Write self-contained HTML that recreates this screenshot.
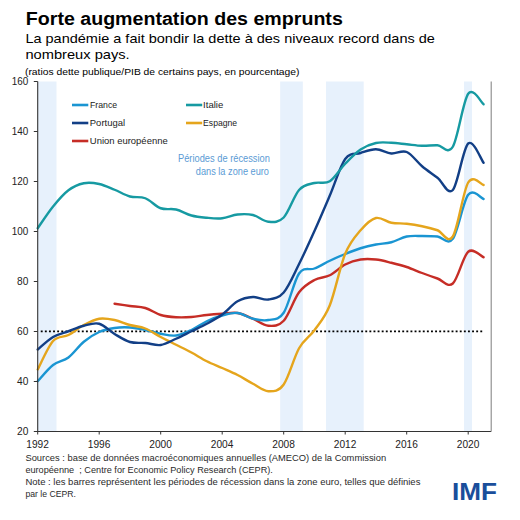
<!DOCTYPE html>
<html><head><meta charset="utf-8"><style>
html,body{margin:0;padding:0;background:#fff;}
body{width:520px;height:520px;overflow:hidden;position:relative;font-family:"Liberation Sans",sans-serif;color:#000;}
svg{position:absolute;left:0;top:0;}
.ax{font-size:10.4px;fill:#222;}
.lg{font-size:9.8px;fill:#222;}
.ann{font-size:10px;fill:#5B9BD5;}
.title{font-size:17.6px;font-weight:bold;fill:#000;}
.sub{font-size:13.3px;fill:#000;}
.unit{font-size:9.8px;fill:#000;}
.note{font-size:8.8px;fill:#2a2a2a;}
.imf{font-size:23px;font-weight:bold;fill:#1A4E9B;}
.t{position:absolute;white-space:nowrap;left:0;top:0;}
</style></head><body>
<svg width="520" height="520" viewBox="0 0 520 520">
<rect x="38.0" y="81.5" width="18.5" height="350" fill="#E7F1FC"/><rect x="280.2" y="81.5" width="22.6" height="350" fill="#E7F1FC"/><rect x="326.0" y="81.5" width="37.7" height="350" fill="#E7F1FC"/><rect x="464.0" y="81.5" width="8.0" height="350" fill="#E7F1FC"/>
<line x1="40.75" y1="331.4" x2="484" y2="331.4" stroke="#000" stroke-width="1.8" stroke-dasharray="1.9,2.208"/>
<path d="M114.58,303.75 C117.14,304.12 124.82,305.29 129.95,306.00 C135.07,306.71 140.20,306.50 145.32,308.00 C150.45,309.50 155.57,313.46 160.70,315.00 C165.82,316.54 170.95,316.92 176.07,317.25 C181.20,317.58 186.32,317.38 191.45,317.00 C196.57,316.62 201.70,315.54 206.82,315.00 C211.95,314.46 217.07,314.08 222.20,313.75 C227.32,313.42 232.45,312.17 237.57,313.00 C242.70,313.83 247.82,316.62 252.95,318.75 C258.07,320.88 263.20,325.42 268.32,325.75 C273.45,326.08 278.57,326.33 283.70,320.75 C288.82,315.17 293.95,299.04 299.07,292.25 C304.20,285.46 309.32,282.83 314.45,280.00 C319.57,277.17 324.70,277.83 329.82,275.25 C334.95,272.67 340.07,267.12 345.20,264.50 C350.32,261.88 355.45,260.33 360.57,259.50 C365.70,258.67 370.82,258.96 375.95,259.50 C381.07,260.04 386.20,261.50 391.32,262.75 C396.45,264.00 401.57,265.29 406.70,267.00 C411.82,268.71 416.95,271.08 422.07,273.00 C427.20,274.92 432.32,276.75 437.45,278.50 C442.57,280.25 447.70,287.96 452.82,283.50 C457.95,279.04 463.07,256.12 468.20,251.75 C473.32,247.38 481.01,256.33 483.57,257.25" fill="none" stroke="#C62D26" stroke-width="2.4" stroke-linejoin="round" stroke-linecap="round"/><path d="M37.70,381.25 C40.26,378.54 47.95,368.96 53.08,365.00 C58.20,361.04 63.33,361.38 68.45,357.50 C73.58,353.62 78.70,346.00 83.83,341.75 C88.95,337.50 94.08,334.29 99.20,332.00 C104.33,329.71 109.45,328.75 114.58,328.00 C119.70,327.25 124.82,327.17 129.95,327.50 C135.07,327.83 140.20,328.96 145.32,330.00 C150.45,331.04 155.57,332.83 160.70,333.75 C165.82,334.67 170.95,336.12 176.07,335.50 C181.20,334.88 186.32,332.38 191.45,330.00 C196.57,327.62 201.70,323.67 206.82,321.25 C211.95,318.83 217.07,316.88 222.20,315.50 C227.32,314.12 232.45,312.46 237.57,313.00 C242.70,313.54 247.82,317.58 252.95,318.75 C258.07,319.92 263.20,321.00 268.32,320.00 C273.45,319.00 278.57,320.50 283.70,312.75 C288.82,305.00 293.95,280.88 299.07,273.50 C304.20,266.12 309.32,270.62 314.45,268.50 C319.57,266.38 324.70,263.17 329.82,260.75 C334.95,258.33 340.07,256.08 345.20,254.00 C350.32,251.92 355.45,249.83 360.57,248.25 C365.70,246.67 370.82,245.50 375.95,244.50 C381.07,243.50 386.20,243.58 391.32,242.25 C396.45,240.92 401.57,237.54 406.70,236.50 C411.82,235.46 416.95,236.00 422.07,236.00 C427.20,236.00 432.32,236.04 437.45,236.50 C442.57,236.96 447.70,245.71 452.82,238.75 C457.95,231.79 463.07,201.38 468.20,194.75 C473.32,188.12 481.01,198.29 483.57,199.00" fill="none" stroke="#1A95D2" stroke-width="2.4" stroke-linejoin="round" stroke-linecap="round"/><path d="M37.70,369.50 C40.26,364.75 47.95,346.75 53.08,341.00 C58.20,335.25 63.33,337.67 68.45,335.00 C73.58,332.33 78.70,327.71 83.83,325.00 C88.95,322.29 94.08,319.58 99.20,318.75 C104.33,317.92 109.45,318.96 114.58,320.00 C119.70,321.04 124.82,323.58 129.95,325.00 C135.07,326.42 140.20,326.50 145.32,328.50 C150.45,330.50 155.57,334.29 160.70,337.00 C165.82,339.71 170.95,342.17 176.07,344.75 C181.20,347.33 186.32,349.75 191.45,352.50 C196.57,355.25 201.70,358.67 206.82,361.25 C211.95,363.83 217.07,365.71 222.20,368.00 C227.32,370.29 232.45,372.38 237.57,375.00 C242.70,377.62 247.82,381.04 252.95,383.75 C258.07,386.46 263.20,391.12 268.32,391.25 C273.45,391.38 278.57,391.67 283.70,384.50 C288.82,377.33 293.95,357.29 299.07,348.25 C304.20,339.21 309.32,337.42 314.45,330.25 C319.57,323.08 324.70,318.00 329.82,305.25 C334.95,292.50 340.07,266.25 345.20,253.75 C350.32,241.25 355.45,236.21 360.57,230.25 C365.70,224.29 370.82,219.25 375.95,218.00 C381.07,216.75 386.20,221.79 391.32,222.75 C396.45,223.71 401.57,223.17 406.70,223.75 C411.82,224.33 416.95,225.17 422.07,226.25 C427.20,227.33 432.32,228.54 437.45,230.25 C442.57,231.96 447.70,244.46 452.82,236.50 C457.95,228.54 463.07,191.08 468.20,182.50 C473.32,173.92 481.01,184.58 483.57,185.00" fill="none" stroke="#E5A51C" stroke-width="2.4" stroke-linejoin="round" stroke-linecap="round"/><path d="M37.70,349.50 C40.26,347.42 47.95,340.04 53.08,337.00 C58.20,333.96 63.33,333.12 68.45,331.25 C73.58,329.38 78.70,327.00 83.83,325.75 C88.95,324.50 94.08,322.38 99.20,323.75 C104.33,325.12 109.45,330.96 114.58,334.00 C119.70,337.04 124.82,340.50 129.95,342.00 C135.07,343.50 140.20,342.50 145.32,343.00 C150.45,343.50 155.57,345.71 160.70,345.00 C165.82,344.29 170.95,341.04 176.07,338.75 C181.20,336.46 186.32,333.75 191.45,331.25 C196.57,328.75 201.70,326.54 206.82,323.75 C211.95,320.96 217.07,318.25 222.20,314.50 C227.32,310.75 232.45,304.17 237.57,301.25 C242.70,298.33 247.82,297.29 252.95,297.00 C258.07,296.71 263.20,300.25 268.32,299.50 C273.45,298.75 278.57,298.42 283.70,292.50 C288.82,286.58 293.95,274.25 299.07,264.00 C304.20,253.75 309.32,242.42 314.45,231.00 C319.57,219.58 324.70,207.50 329.82,195.50 C334.95,183.50 340.07,166.08 345.20,159.00 C350.32,151.92 355.45,154.62 360.57,153.00 C365.70,151.38 370.82,149.17 375.95,149.25 C381.07,149.33 386.20,153.04 391.32,153.50 C396.45,153.96 401.57,149.87 406.70,152.00 C411.82,154.12 416.95,161.96 422.07,166.25 C427.20,170.54 432.32,173.79 437.45,177.75 C442.57,181.71 447.70,195.71 452.82,190.00 C457.95,184.29 463.07,148.04 468.20,143.50 C473.32,138.96 481.01,159.54 483.57,162.75" fill="none" stroke="#123F86" stroke-width="2.4" stroke-linejoin="round" stroke-linecap="round"/><path d="M37.70,228.25 C40.26,224.62 47.95,212.83 53.08,206.50 C58.20,200.17 63.33,194.12 68.45,190.25 C73.58,186.38 78.70,184.29 83.83,183.25 C88.95,182.21 94.08,182.92 99.20,184.00 C104.33,185.08 109.45,187.67 114.58,189.75 C119.70,191.83 124.82,195.08 129.95,196.50 C135.07,197.92 140.20,196.29 145.32,198.25 C150.45,200.21 155.57,206.38 160.70,208.25 C165.82,210.12 170.95,208.29 176.07,209.50 C181.20,210.71 186.32,214.12 191.45,215.50 C196.57,216.88 201.70,217.29 206.82,217.75 C211.95,218.21 217.07,218.79 222.20,218.25 C227.32,217.71 232.45,215.04 237.57,214.50 C242.70,213.96 247.82,213.79 252.95,215.00 C258.07,216.21 263.20,221.33 268.32,221.75 C273.45,222.17 278.57,222.79 283.70,217.50 C288.82,212.21 293.95,195.75 299.07,190.00 C304.20,184.25 309.32,184.46 314.45,183.00 C319.57,181.54 324.70,184.46 329.82,181.25 C334.95,178.04 340.07,169.04 345.20,163.75 C350.32,158.46 355.45,152.96 360.57,149.50 C365.70,146.04 370.82,144.12 375.95,143.00 C381.07,141.88 386.20,142.54 391.32,142.75 C396.45,142.96 401.57,143.75 406.70,144.25 C411.82,144.75 416.95,145.58 422.07,145.75 C427.20,145.92 432.32,145.08 437.45,145.25 C442.57,145.42 447.70,155.33 452.82,146.75 C457.95,138.17 463.07,100.83 468.20,93.75 C473.32,86.67 481.01,102.50 483.57,104.25" fill="none" stroke="#169AA2" stroke-width="2.4" stroke-linejoin="round" stroke-linecap="round"/>
<line x1="37.7" y1="81.5" x2="37.7" y2="431.5" stroke="#333" stroke-width="1.1"/>
<line x1="37.2" y1="431.5" x2="491.2" y2="431.5" stroke="#333" stroke-width="1.1"/>
<line x1="491.2" y1="81.5" x2="491.2" y2="431.5" stroke="#888" stroke-width="1.1"/>
<line x1="33.8" y1="431.50" x2="37.7" y2="431.50" stroke="#333" stroke-width="1"/><text x="17.00" y="435.00" textLength="11.3" lengthAdjust="spacingAndGlyphs" class="ax">20</text><line x1="33.8" y1="381.50" x2="37.7" y2="381.50" stroke="#333" stroke-width="1"/><text x="17.00" y="385.00" textLength="11.3" lengthAdjust="spacingAndGlyphs" class="ax">40</text><line x1="33.8" y1="331.50" x2="37.7" y2="331.50" stroke="#333" stroke-width="1"/><text x="17.00" y="335.00" textLength="11.3" lengthAdjust="spacingAndGlyphs" class="ax">60</text><line x1="33.8" y1="281.50" x2="37.7" y2="281.50" stroke="#333" stroke-width="1"/><text x="17.00" y="285.00" textLength="11.3" lengthAdjust="spacingAndGlyphs" class="ax">80</text><line x1="33.8" y1="231.50" x2="37.7" y2="231.50" stroke="#333" stroke-width="1"/><text x="11.80" y="235.00" textLength="16.5" lengthAdjust="spacingAndGlyphs" class="ax">100</text><line x1="33.8" y1="181.50" x2="37.7" y2="181.50" stroke="#333" stroke-width="1"/><text x="11.80" y="185.00" textLength="16.5" lengthAdjust="spacingAndGlyphs" class="ax">120</text><line x1="33.8" y1="131.50" x2="37.7" y2="131.50" stroke="#333" stroke-width="1"/><text x="11.80" y="135.00" textLength="16.5" lengthAdjust="spacingAndGlyphs" class="ax">140</text><line x1="33.8" y1="81.50" x2="37.7" y2="81.50" stroke="#333" stroke-width="1"/><text x="11.80" y="85.00" textLength="16.5" lengthAdjust="spacingAndGlyphs" class="ax">160</text>
<line x1="37.70" y1="431.5" x2="37.70" y2="434.5" stroke="#333" stroke-width="1"/><text x="26.30" y="447.8" textLength="22.6" lengthAdjust="spacingAndGlyphs" class="ax">1992</text><line x1="99.20" y1="431.5" x2="99.20" y2="434.5" stroke="#333" stroke-width="1"/><text x="87.80" y="447.8" textLength="22.6" lengthAdjust="spacingAndGlyphs" class="ax">1996</text><line x1="160.70" y1="431.5" x2="160.70" y2="434.5" stroke="#333" stroke-width="1"/><text x="149.30" y="447.8" textLength="22.6" lengthAdjust="spacingAndGlyphs" class="ax">2000</text><line x1="222.20" y1="431.5" x2="222.20" y2="434.5" stroke="#333" stroke-width="1"/><text x="210.80" y="447.8" textLength="22.6" lengthAdjust="spacingAndGlyphs" class="ax">2004</text><line x1="283.70" y1="431.5" x2="283.70" y2="434.5" stroke="#333" stroke-width="1"/><text x="272.30" y="447.8" textLength="22.6" lengthAdjust="spacingAndGlyphs" class="ax">2008</text><line x1="345.20" y1="431.5" x2="345.20" y2="434.5" stroke="#333" stroke-width="1"/><text x="333.80" y="447.8" textLength="22.6" lengthAdjust="spacingAndGlyphs" class="ax">2012</text><line x1="406.70" y1="431.5" x2="406.70" y2="434.5" stroke="#333" stroke-width="1"/><text x="395.30" y="447.8" textLength="22.6" lengthAdjust="spacingAndGlyphs" class="ax">2016</text><line x1="468.20" y1="431.5" x2="468.20" y2="434.5" stroke="#333" stroke-width="1"/><text x="456.80" y="447.8" textLength="22.6" lengthAdjust="spacingAndGlyphs" class="ax">2020</text>
<line x1="72.0" y1="105.0" x2="88.3" y2="105.0" stroke="#1A95D2" stroke-width="2.6"/><text x="90.0" y="107.9" textLength="27.1" lengthAdjust="spacingAndGlyphs" class="lg">France</text><line x1="72.0" y1="123.0" x2="88.3" y2="123.0" stroke="#123F86" stroke-width="2.6"/><text x="89.8" y="125.9" textLength="35.3" lengthAdjust="spacingAndGlyphs" class="lg">Portugal</text><line x1="72.0" y1="141.0" x2="88.3" y2="141.0" stroke="#C62D26" stroke-width="2.6"/><text x="89.8" y="143.9" textLength="77.9" lengthAdjust="spacingAndGlyphs" class="lg">Union européenne</text><line x1="186.0" y1="105.0" x2="202.2" y2="105.0" stroke="#169AA2" stroke-width="2.6"/><text x="203.1" y="107.9" textLength="20.2" lengthAdjust="spacingAndGlyphs" class="lg">Italie</text><line x1="186.0" y1="123.0" x2="202.2" y2="123.0" stroke="#E5A51C" stroke-width="2.6"/><text x="203.1" y="125.9" textLength="34.0" lengthAdjust="spacingAndGlyphs" class="lg">Espagne</text>
<text x="178" y="161.8" textLength="91.9" lengthAdjust="spacingAndGlyphs" class="ann">Périodes de récession</text>
<text x="195.8" y="174.6" textLength="73.2" lengthAdjust="spacingAndGlyphs" class="ann">dans la zone euro</text>
<text x="25.8" y="24.8" textLength="317" lengthAdjust="spacingAndGlyphs" class="title">Forte augmentation des emprunts</text>
<text x="25.4" y="42.5" textLength="409.5" lengthAdjust="spacingAndGlyphs" class="sub">La pandémie a fait bondir la dette à des niveaux record dans de</text>
<text x="25.4" y="58.7" textLength="104.3" lengthAdjust="spacingAndGlyphs" class="sub">nombreux pays.</text>
<text x="25" y="74.5" textLength="274.5" lengthAdjust="spacingAndGlyphs" class="unit">(ratios dette publique/PIB de certains pays, en pourcentage)</text>
<text x="25.4" y="460.8" textLength="360.7" lengthAdjust="spacingAndGlyphs" class="note">Sources : base de données macroéconomiques annuelles (AMECO) de la Commission</text>
<text x="25.4" y="472.6" textLength="247.5" lengthAdjust="spacingAndGlyphs" class="note">européenne&#160; ; Centre for Economic Policy Research (CEPR).</text>
<text x="25.4" y="484.8" textLength="395" lengthAdjust="spacingAndGlyphs" class="note">Note : les barres représentent les périodes de récession dans la zone euro, telles que définies</text>
<text x="25.4" y="496.9" textLength="50.6" lengthAdjust="spacingAndGlyphs" class="note">par le CEPR.</text>
<text x="451.9" y="499.8" textLength="45" lengthAdjust="spacingAndGlyphs" class="imf">IMF</text>
</svg>
</body></html>
